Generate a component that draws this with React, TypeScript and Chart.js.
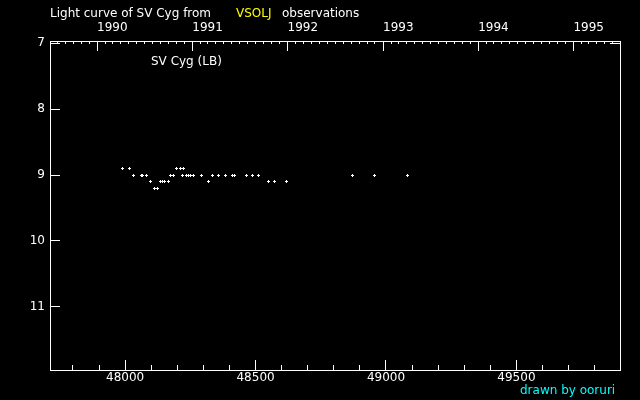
import React, { useEffect, useRef } from "react";
import { Chart, registerables } from "chart.js";

Chart.register(...registerables);

// Julian Date - 2400000
const jd = [
  47990, 48017, 48032, 48064, 48068, 48082, 48097, 48113, 48124, 48137,
  48145, 48152, 48166, 48174, 48185, 48197, 48212, 48224, 48220, 48235,
  48243, 48252, 48262, 48292, 48319, 48335, 48358, 48386, 48411, 48419,
  48465, 48488, 48511, 48549, 48572, 48618, 48871, 48954, 49081,
];
const mag = [
  8.9, 8.9, 9.0, 9.0, 9.0, 9.0, 9.1, 9.2, 9.2, 9.1,
  9.1, 9.1, 9.1, 9.0, 9.0, 8.9, 8.9, 8.9, 9.0, 9.0,
  9.0, 9.0, 9.0, 9.0, 9.1, 9.0, 9.0, 9.0, 9.0, 9.0,
  9.0, 9.0, 9.0, 9.1, 9.1, 9.1, 9.0, 9.0, 9.0,
];

const xMin = 47712;
const xMax = 49897;
const yMin = 6.965;
const yMax = 11.96;

const jdMajorTicks = [48000, 48500, 49000, 49500];
const jdMinorTicks = [
  47800, 47900, 48000, 48100, 48200, 48300, 48400, 48500, 48600, 48700, 48800,
  48900, 49000, 49100, 49200, 49300, 49400, 49500, 49600, 49700, 49800,
];
const magTicks = [7, 8, 9, 10, 11];
const years = [1990, 1991, 1992, 1993, 1994, 1995];

const FONT = "'DejaVu Sans', sans-serif";

function jdOf(y: number, m: number) {
  return Date.UTC(y, m, 1) / 86400000 + 40587.5;
}
const yearTicks = years.map((y) => jdOf(y, 0));
const monthTicks: number[] = [];
for (let y = 1989; y <= 1995; y++) {
  for (let m = 0; m < 12; m++) {
    const v = jdOf(y, m);
    if (v > xMin && v < xMax) monthTicks.push(v);
  }
}

function makePlus() {
  const c = document.createElement("canvas");
  c.width = 3;
  c.height = 3;
  const g = c.getContext("2d")!;
  g.fillStyle = "#ffffff";
  g.fillRect(1, 0, 1, 3);
  g.fillRect(0, 1, 3, 1);
  return c;
}

const textPlugin = {
  id: "texts",
  beforeDraw(chart: any) {
    const ctx = chart.ctx;
    ctx.save();
    ctx.fillStyle = "#000";
    ctx.fillRect(0, 0, chart.width, chart.height);
    ctx.restore();
  },
  beforeDatasetsDraw(chart: any) {
    chart.ctx.save();
    chart.ctx.imageSmoothingEnabled = false;
  },
  afterDatasetsDraw(chart: any) {
    chart.ctx.restore();
  },
  afterDraw(chart: any) {
    const ctx = chart.ctx;
    ctx.save();
    ctx.font = `12px ${FONT}`;
    ctx.textBaseline = "alphabetic";
    ctx.textAlign = "left";
    ctx.fillStyle = "#ffffff";
    ctx.fillText("Light curve of SV Cyg from", 50, 17);
    ctx.fillStyle = "#ffff00";
    ctx.fillText("VSOLJ", 236, 17);
    ctx.fillStyle = "#ffffff";
    ctx.fillText("observations", 282, 17);
    ctx.fillText("SV Cyg (LB)", 151, 65);
    ctx.fillStyle = "#00ffff";
    ctx.fillText("drawn by ooruri", 520, 394);
    ctx.restore();
  },
};

const setTicks = (vals: number[]) => (axis: any) => {
  axis.ticks = vals.map((v) => ({ value: v }));
};

const gridOpts = (len: number) => ({
  display: true,
  drawOnChartArea: false,
  drawTicks: true,
  tickLength: len,
  tickColor: "#ffffff",
  tickWidth: 1,
});

export default function App() {
  const ref = useRef<HTMLCanvasElement>(null);
  useEffect(() => {
    if (!ref.current) return;
    const plus = makePlus();
    const chart = new Chart(ref.current, {
      type: "scatter",
      data: {
        datasets: [
          {
            data: jd.map((x, i) => ({ x, y: mag[i] })),
            pointStyle: plus,
            radius: 2,
            borderColor: "#ffffff",
            backgroundColor: "#ffffff",
            borderWidth: 1,
            xAxisID: "x",
            yAxisID: "y",
          },
        ],
      },
      plugins: [textPlugin],
      options: {
        animation: false,
        responsive: false,
        layout: { padding: { left: 0, right: 20, top: 0, bottom: 0 } },
        plugins: { legend: { display: false }, tooltip: { enabled: false }, title: { display: false } },
        scales: {
          xMinor: {
            type: "linear",
            position: "bottom",
            weight: 0,
            min: xMin,
            max: xMax,
            afterBuildTicks: setTicks(jdMinorTicks),
            ticks: { display: false },
            grid: gridOpts(-5),
            border: { display: true, color: "#fff", width: 1 },
            afterFit: (a: any) => { a.height = 0; },
          },
          x: {
            type: "linear",
            position: "bottom",
            weight: 1,
            min: xMin,
            max: xMax,
            afterBuildTicks: setTicks(jdMajorTicks),
            ticks: {
              color: "#fff",
              font: { family: FONT, size: 12 },
              padding: 11,
              maxRotation: 0,
              callback: (v: any) => String(v),
            },
            grid: gridOpts(-10),
            border: { display: true, color: "#fff", width: 1 },
            afterFit: (a: any) => { a.height = 30; },
          },
          xTopMinor: {
            type: "linear",
            position: "top",
            weight: 0,
            min: xMin,
            max: xMax,
            afterBuildTicks: setTicks(monthTicks),
            ticks: { display: false },
            grid: gridOpts(-3),
            border: { display: true, color: "#fff", width: 1 },
            afterFit: (a: any) => { a.height = 0; },
          },
          xTop: {
            type: "linear",
            position: "top",
            weight: 1,
            min: xMin,
            max: xMax,
            afterBuildTicks: setTicks(yearTicks),
            ticks: {
              color: "#fff",
              font: { family: FONT, size: 12 },
              padding: 16,
              align: "start",
              maxRotation: 0,
              callback: (_v: any, i: number) => String(years[i]),
            },
            grid: gridOpts(-10),
            border: { display: true, color: "#fff", width: 1 },
            afterFit: (a: any) => { a.height = 41; },
          },
          y: {
            type: "linear",
            position: "left",
            reverse: true,
            min: yMin,
            max: yMax,
            afterBuildTicks: setTicks(magTicks),
            ticks: {
              color: "#fff",
              font: { family: FONT, size: 12 },
              padding: 15,
              callback: (v: any) => String(v),
            },
            grid: gridOpts(-10),
            border: { display: true, color: "#fff", width: 1 },
            afterFit: (a: any) => { a.width = 50; },
          },
          yRight: {
            type: "linear",
            position: "right",
            reverse: true,
            min: yMin,
            max: yMax,
            afterBuildTicks: setTicks([7]),
            ticks: { display: false },
            grid: gridOpts(-10),
            border: { display: true, color: "#fff", width: 1 },
            afterFit: (a: any) => { a.width = 0; },
          },
        },
      } as any,
    });
    return () => chart.destroy();
  }, []);
  return (
    <div style={{ position: "fixed", left: 0, top: 0, width: 640, height: 400, background: "#000" }}>
      <canvas ref={ref} width={640} height={400} style={{ display: "block", width: 640, height: 400 }} />
    </div>
  );
}
